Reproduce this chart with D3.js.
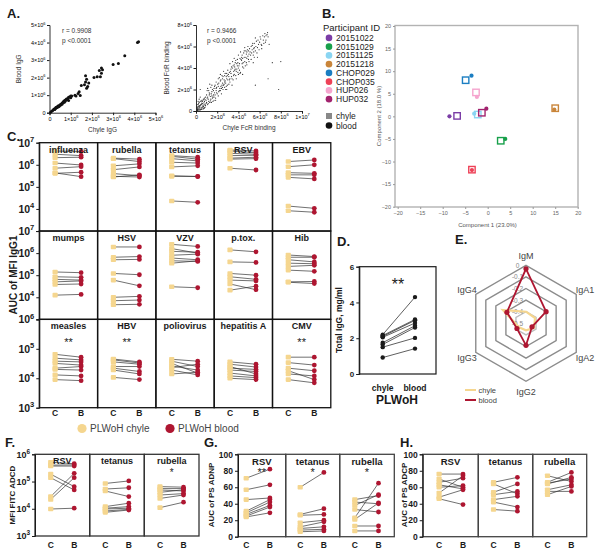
<!DOCTYPE html>
<html>
<head>
<meta charset="utf-8">
<script src="https://cdn.jsdelivr.net/npm/d3@7"></script>
<style>
  body { margin: 0; background: #fff; }
  svg { font-family: Arial, "Liberation Sans", sans-serif; }
</style>
</head>
<body>
<div id="chart"></div>
<script>
// ---------- data ----------

// A: chyle vs blood IgG (x10^6)
const igPairs = [
  [0.05,0.03],[0.1,0.08],[0.15,0.12],[0.2,0.2],[0.25,0.22],[0.3,0.3],[0.35,0.33],[0.4,0.38],
  [0.45,0.4],[0.5,0.45],[0.55,0.5],[0.6,0.55],[0.65,0.62],[0.7,0.68],[0.75,0.72],[0.8,0.78],
  [0.85,0.8],[0.9,0.88],[0.95,0.9],[1.0,0.95],[0.3,0.25],[0.4,0.32],[0.5,0.42],[0.6,0.5],
  [0.7,0.6],[0.35,0.3],[0.45,0.36],[0.55,0.46],[0.25,0.18],[0.65,0.58],[0.75,0.66],[0.85,0.75],
  [0.9,0.7],[1.0,0.85],[1.05,0.95],[1.2,1.0],[1.25,0.95],[1.35,1.1],[1.4,1.2],[1.45,0.98],
  [1.5,1.55],[1.7,2.1],[1.75,1.9],[1.7,1.75],[1.65,1.6],[1.8,1.5],[1.75,1.4],[1.85,1.7],
  [2.1,2.0],[2.25,2.05],[2.35,2.4],[2.45,2.55],[2.5,2.45],[2.45,2.25],[2.4,2.05],[3.0,2.75],
  [3.25,2.8],[3.55,3.25],[4.15,4.0],[4.2,4.05]
];
// A: chyle vs blood FcR binding (x10^6)
const fcrPairs = [
  [0.1,0.1],[0.2,0.3],[0.3,0.1],[0.4,0.5],[0.5,0.2],[0.6,0.7],[0.7,0.4],[0.2,0.6],[0.8,0.9],[0.9,0.5],
  [0.3,0.8],[0.5,1.0],[0.1,0.4],[0.6,0.3],[0.4,0.9],[0.7,1.1],[1.0,0.8],[0.8,0.3],[0.2,0.2],[0.5,0.6],
  [0.15,0.05],[0.35,0.35],[0.45,0.15],[0.65,0.55],[0.25,0.45],[0.05,0.2],[0.75,0.75],[0.95,1.0],[0.55,0.85],[0.85,0.6],
  [0.05,0.05],[0.1,0.2],[0.15,0.3],[0.25,0.1],[0.3,0.4],[0.35,0.2],[0.4,0.1],[0.45,0.6],[0.5,0.35],[0.55,0.15],
  [0.6,0.9],[0.65,0.4],[0.7,0.2],[0.75,0.55],[0.8,1.2],[0.85,0.35],[0.9,1.3],[0.95,0.7],[0.1,0.6],[0.2,0.9],
  [0.3,1.1],[0.4,1.3],[0.15,0.15],[0.35,0.5],[0.55,0.7],[0.65,1.0],[0.75,0.25],[0.85,1.05],[0.05,0.35],[0.25,0.7],
  [1.1,1.3],[1.2,0.9],[1.3,1.6],[1.4,1.1],[1.5,1.8],[1.6,1.3],[1.7,2.1],[1.8,1.5],[1.9,1.9],[1.2,1.9],
  [1.4,2.2],[1.6,0.9],[1.8,2.4],[1.1,0.6],[1.3,2.5],[1.5,1.4],[1.7,1.0],[1.9,2.7],[2.0,1.6],[1.0,1.5],
  [1.15,1.1],[1.35,1.35],[1.55,1.2],[1.75,1.7],[1.95,2.2],[1.25,1.5],[1.45,0.8],[1.65,1.9],[1.85,1.2],[1.05,1.9],
  [1.05,1.2],[1.15,0.7],[1.25,1.7],[1.35,0.95],[1.45,1.6],[1.55,2.0],[1.65,1.5],[1.75,2.3],[1.85,1.0],[1.95,1.7],
  [1.1,2.1],[1.3,0.8],[1.5,2.4],[1.7,1.3],[1.9,2.1],
  [2.1,2.3],[2.2,1.9],[2.3,2.8],[2.4,2.1],[2.5,3.0],[2.6,2.4],[2.7,3.3],[2.8,2.6],[2.9,3.5],[2.2,3.1],
  [2.4,1.6],[2.6,3.7],[2.8,2.0],[3.0,2.9],[2.1,1.4],[2.5,2.6],[2.9,3.0],[2.3,3.4],[2.7,2.2],[3.0,3.8],
  [2.15,2.6],[2.35,2.3],[2.55,2.0],[2.75,2.8],[2.95,2.4],[2.45,3.3],[2.65,2.9],[2.85,3.2],
  [2.05,2.5],[2.15,1.8],[2.25,2.1],[2.35,2.9],[2.45,2.4],[2.55,3.2],[2.65,2.5],[2.75,3.5],[2.85,2.3],[2.95,3.3],
  [2.1,3.0],[2.3,1.9],[2.5,2.2],[2.7,2.7],[2.9,2.0],
  [3.1,3.2],[3.2,2.7],[3.3,3.9],[3.4,3.0],[3.5,4.2],[3.6,3.4],[3.7,4.5],[3.8,3.7],[3.9,4.8],[3.2,4.4],
  [3.4,2.4],[3.6,4.9],[3.8,3.0],[4.0,4.0],[3.3,3.5],[3.5,2.9],[3.7,3.9],[3.9,4.2],[3.1,2.5],[4.0,5.2],
  [3.15,3.6],[3.35,4.1],[3.55,3.7],[3.75,3.3],[3.95,3.6],[3.45,4.6],[3.65,4.1],[3.85,4.4],
  [3.05,3.4],[3.15,2.9],[3.25,3.7],[3.35,3.2],[3.45,4.0],[3.55,3.3],[3.65,3.8],[3.75,4.7],[3.85,3.9],[3.95,4.5],
  [3.2,3.0],[3.6,4.3],
  [4.1,4.4],[4.2,3.6],[4.3,5.0],[4.4,4.1],[4.5,5.4],[4.6,4.6],[4.7,5.6],[4.8,4.3],[4.9,5.1],[4.2,5.5],
  [4.4,3.4],[4.6,5.9],[4.8,4.9],[5.0,5.3],[4.3,4.7],[4.5,4.0],[4.7,5.0],[4.9,6.0],[4.1,3.8],[5.0,4.6],
  [4.15,4.9],[4.35,4.4],[4.55,5.0],[4.75,4.5],[4.95,5.6],
  [4.05,4.2],[4.15,3.5],[4.25,4.8],[4.35,5.2],[4.45,4.5],[4.55,5.6],[4.65,4.2],[4.75,5.3],[4.85,5.7],[4.95,4.8],
  [4.0,3.4],[4.4,4.9],[4.8,5.5],
  [5.1,5.5],[5.2,4.8],[5.3,6.1],[5.4,5.2],[5.5,6.3],[5.6,5.6],[5.7,6.5],[5.8,5.0],[5.9,6.2],[5.2,6.0],
  [5.4,4.5],[5.6,6.8],[5.8,5.9],[6.0,6.4],[5.3,5.7],[5.5,5.0],[5.15,5.2],[5.45,5.8],[5.75,5.4],
  [5.05,5.8],[5.25,5.4],[5.35,6.3],[5.45,5.5],[5.65,6.0],[5.85,6.6],[5.95,5.7],[5.5,5.9],
  [6.1,6.7],[6.2,5.8],[6.3,7.0],[6.4,6.3],[6.5,7.2],[6.6,6.6],[6.8,6.9],[6.2,6.1],[6.7,7.1],[6.9,6.2],
  [6.05,6.9],[6.15,6.2],[6.35,6.6],[6.45,6.9],[6.55,6.4],[6.75,7.3],[6.6,7.0],
  [7.2,4.5],[7.8,2.0],[5.6,2.4],[6.8,3.0],[0.4,2.0],[8.0,4.6]
];
const igStats = ["r = 0.9908", "p <0.0001"];
const fcrStats = ["r = 0.9466", "p <0.0001"];

// B: PCA
const participants = ["20151022","20151029","20151125","20151218","CHOP029","CHOP035","HUP026","HUP032"];
const partColors = ["#7B3DA6","#18A04B","#8AD5F2","#C9853A","#1B7EC2","#EE4157","#F5A5CE","#A2236E"];
const pcChyle = [[-6.8,0.1],[2.9,-5.4],[-2.2,0.4],[15.0,1.8],[-4.9,8.0],[-3.5,-11.8],[-2.6,5.3],[-1.3,0.8]];
const pcBlood = [[-8.5,0.0],[3.9,-5.0],[-3.0,0.6],[14.8,1.5],[-3.6,9.0],[-3.5,-11.9],[-2.4,4.3],[-0.3,1.7]];

// C: AUC of MFI IgG1 per antigen
const cNames = ["influenza","rubella","tetanus","RSV","EBV",
                "mumps","HSV","VZV","p.tox.","Hib",
                "measles","HBV","poliovirus","hepatitis A","CMV"];
const cStars = ["","","","","", "","","","","", "**","**","","","**"];
const cChyle = [
  [4.2e6,3.0e6,2.1e6,1.2e6,7e5,4.1e5,4.3e5],
  [2.0e6,1.9e6,9e5,6e5,4e5,3e5,2.8e5],
  [2.6e6,2.4e6,1.9e6,1.3e6,8e5,3.2e5,3.0e5,2.3e4],
  [4.7e6,4.2e6,3.3e6,2.6e6,2.0e6,1.8e6,7e5],
  [1.4e6,8.2e5,4.4e5,3.5e5,2.7e5,1.35e4,8.3e3],
  [1.4e5,8.5e4,6.5e4,5e4,3.8e4,1.25e4],
  [1.9e6,6.5e5,5e5,1.2e5,6e4,1e4,7e3,4.6e3],
  [2.5e6,1.6e6,1.2e6,8e5,6e5,4.5e5,3.5e5,3e4],
  [1.4e6,4e5,1.2e5,8.5e4,6e4,4e4,2.1e4],
  [8.2e5,6.5e5,5e5,3.5e5,2.5e5,1.7e5,5e4,4.8e4],
  [6.5e4,4.8e4,3.8e4,3.2e4,2.2e4,2.0e4,1.3e4,9e3],
  [4.5e4,4.2e4,3.6e4,2.5e4,2.2e4,1.9e4,1.07e4],
  [4.4e4,3.8e4,3.2e4,2.6e4,2.3e4,1.9e4,1.4e4],
  [3.6e4,3.0e4,2.5e4,2.2e4,1.9e4,1.5e4,1.2e4,1.0e4],
  [5.2e4,3.4e4,2.2e4,1.8e4,1.4e4,9e3]
];
const cBlood = [
  [4.0e6,2.6e6,2.2e6,9.8e5,8.2e5,4.6e5,2.9e5],
  [1.8e6,1.4e6,1.1e6,8e5,3.2e5,2.8e5,3.5e5],
  [2.2e6,1.8e6,1.5e6,1.2e6,9e5,2.9e5,3.0e5,2.0e4],
  [4.2e6,3.5e6,3.0e6,2.7e6,2.2e6,1.9e6,5.8e5],
  [1.65e6,1.0e6,4.1e5,3.5e5,2.3e5,1.07e4,7.1e3],
  [1.3e5,8e4,6e4,5.5e4,4e4,1.35e4],
  [1.9e6,7e5,5.2e5,1.05e5,3.3e4,1.1e4,7.5e3,4.8e3],
  [2e6,1.0e6,1.1e6,9e5,5e5,4.2e5,4.5e5,2.7e4],
  [1.15e6,3.8e5,1.0e5,6.5e4,5.5e4,2.2e4,3.2e4],
  [7e5,6.5e5,4e5,3.3e5,2.8e5,1.5e5,5.2e4,4.2e4],
  [5.2e4,4.2e4,3.6e4,2.8e4,2.5e4,1.9e4,1.2e4,8.3e3],
  [3.6e4,3.3e4,3.0e4,2.5e4,1.7e4,1.4e4,9e3],
  [3.8e4,2.5e4,1.5e4,1.9e4,3.0e4,1.3e4,1.6e4],
  [3.0e4,2.4e4,1.4e4,2.0e4,1.7e4,1.2e4,1.05e4,9e3],
  [5.2e4,2.8e4,1.8e4,9e3,1.2e4,7e3]
];
const cRowDomains = [[1e3,1e7],[1e3,1e7],[1e3,1e6]];
const cRowTicks = [[1e4,1e5,1e6,1e7],[1e4,1e5,1e6,1e7],[1e3,1e4,1e5,1e6]];

// D: total IgG mg/ml
const dChyle = [0.92,1.5,1.65,1.75,2.05,2.1,2.15,2.2];
const dBlood = [1.42,2.02,2.6,2.7,2.85,3.0,3.05,4.3];
const dGroups = ["chyle","blood"];

// E: radar
const eAxes = ["IgM","IgA1","IgA2","IgG2","IgG3","IgG4"];
const eChyle = [-0.40,-0.41,-0.42,-0.44,-0.43,-0.27];
const eBlood = [-0.03,-0.30,-0.44,-0.31,-0.41,-0.31];
const eRings = [0,-0.1,-0.2,-0.3,-0.4];
const eRingLabels = ["0","-0.1","-0.2","-0.3","-0.4","-0.5"];

// F: MFI FITC ADCD
const fNames = ["RSV","tetanus","rubella"];
const fStars = ["","","*"];
const fChyle = [
  [5.1e5,4.0e5,3.7e5,1.87e5,1.38e5,2.8e4,2.2e4,9.8e3],
  [8.5e4,5.3e4,4.5e4,1.2e4,1.05e4,9.8e3,8.3e3,7.4e3],
  [6.5e4,5.5e4,4.9e4,4e4,3.2e4,2.4e4,1.1e4]
];
const fBlood = [
  [4.5e5,4.1e5,3.7e5,6.5e4,4.9e4,2.0e5,1.38e5,1.05e4],
  [1.05e5,5.9e4,2.8e4,1.6e4,1.2e4,1.05e4,9.5e3,9e3],
  [6.2e4,5.5e4,4.5e4,5e4,3.6e4,3.2e4,1.74e4]
];

// G: AUC of PS ADNP
const gNames = ["RSV","tetanus","rubella"];
const gStars = ["**","*","*"];
const gChyle = [
  [71,57,45,31,29,27,25,24],
  [60,27,26,17,12,10,8,6],
  [45,42,38,33,23,21,13,7]
];
const gBlood = [
  [82,63,47,45,42,38,36,29],
  [78,34,27,20,18,12,9,7],
  [50,40,51,30,65,41,13,7]
];

// H: AUC of PS ADCP
const hNames = ["RSV","tetanus","rubella"];
const hStars = ["","",""];
const hChyle = [
  [76,70,66,63,60,53,48,46],
  [66,64,54,51,45,42,33],
  [74,66,65,64,57,55,51]
];
const hBlood = [
  [76,60,71,58,62,74,57,39],
  [72,52,64,55,49,36,31],
  [67,78,70,72,63,55,61]
];

// ---------- drawing ----------
const CHYLE = "#F5D68F", BLOOD = "#AE1631", INK = "#1a1a1a";

const svg = d3.select("#chart").append("svg")
  .attr("width", 607).attr("height", 554);

function letter(t, x, y) {
  svg.append("text").attr("x", x).attr("y", y)
    .attr("font-size", 13).attr("font-weight", "bold").attr("fill", INK).text(t);
}
function sup(sel, base, exp, size) {
  sel.text(null);
  sel.append("tspan").text(base);
  sel.append("tspan").attr("dy", -size * 0.45).attr("font-size", size * 0.72).text(exp);
}
function sciLabel(sel, v, size) {
  if (v === 0) { sel.text("0"); return; }
  const e = Math.floor(Math.log10(v) + 1e-9);
  const m = Math.round(v / Math.pow(10, e));
  sup(sel, m + "\u00d710", e, size);
}

// ----- A -----
letter("A.", 7, 18);
function scatterA(pairs, xr, yr, xmax, ymax, xstep, ystep, dotR, dotFill, xLab, yLab, yLabX, stats, statX) {
  const x = d3.scaleLinear().domain([0, xmax]).range(xr);
  const y = d3.scaleLinear().domain([0, ymax]).range(yr);
  const fs = 5.5;
  const xa = svg.append("g").attr("transform", `translate(0,${yr[0]})`)
    .call(d3.axisBottom(x).tickValues(d3.range(0, xmax + 0.001, xstep)).tickSize(2.5).tickPadding(1.5));
  xa.selectAll(".tick text").attr("font-size", fs).each(function(d) { sciLabel(d3.select(this), d * 1e6, fs); });
  const ya = svg.append("g").attr("transform", `translate(${xr[0]},0)`)
    .call(d3.axisLeft(y).tickValues(d3.range(0, ymax + 0.001, ystep)).tickSize(2.5).tickPadding(1.5));
  ya.selectAll(".tick text").attr("font-size", fs).each(function(d) { sciLabel(d3.select(this), d * 1e6, fs); });
  [xa, ya].forEach(a => { a.select(".domain").attr("stroke", INK).attr("stroke-width", 0.9); a.selectAll("line").attr("stroke", INK); a.attr("font-family", null); });
  svg.append("g").selectAll("circle").data(pairs).join("circle")
    .attr("cx", d => x(d[0])).attr("cy", d => y(d[1])).attr("r", dotR).attr("fill", dotFill);
  svg.append("text").attr("x", (xr[0] + xr[1]) / 2).attr("y", yr[0] + 19)
    .attr("text-anchor", "middle").attr("font-size", 6.5).attr("fill", "#333").text(xLab);
  svg.append("text").attr("transform", `translate(${yLabX},${(yr[0] + yr[1]) / 2}) rotate(-90)`)
    .attr("text-anchor", "middle").attr("font-size", 6.5).attr("fill", "#333").text(yLab);
  stats.forEach((s, i) => svg.append("text").attr("x", statX).attr("y", yr[1] + 8 + i * 9.5)
    .attr("font-size", 6.5).attr("fill", "#333").text(s));
}
scatterA(igPairs, [49.5, 155.5], [112.7, 25], 5, 5, 1, 1, 1.5, "#111",
  "Chyle IgG", "Blood IgG", 21, igStats, 62);
scatterA(fcrPairs, [196, 302], [111, 25], 10, 8, 2, 2, 0.6, "#2a2a2a",
  "Chyle FcR binding", "Blood FcR binding", 169, fcrStats, 207);

// ----- B -----
letter("B.", 322, 18);
svg.append("text").attr("x", 323).attr("y", 31).attr("font-size", 9.5).attr("fill", "#222").text("Participant ID");
const legY = d3.scaleBand().domain(participants).range([33.5, 103.5]);
const lg = svg.append("g").selectAll("g").data(participants).join("g")
  .attr("transform", d => `translate(329,${legY(d) + legY.bandwidth() / 2})`);
lg.append("circle").attr("r", 3.3).attr("fill", (d, i) => partColors[i]);
lg.append("text").attr("x", 7).attr("y", 3).attr("font-size", 8.5).attr("fill", "#222").text(d => d);
svg.append("rect").attr("x", 326).attr("y", 113).attr("width", 6).attr("height", 6).attr("fill", "#888");
svg.append("text").attr("x", 336).attr("y", 119).attr("font-size", 8.5).attr("fill", "#222").text("chyle");
svg.append("circle").attr("cx", 329).attr("cy", 125.5).attr("r", 3.3).attr("fill", "#111");
svg.append("text").attr("x", 336).attr("y", 128.5).attr("font-size", 8.5).attr("fill", "#222").text("blood");

const pcX = d3.scaleLinear().domain([-20, 20]).range([397.7, 577.7]);
const pcY = d3.scaleLinear().domain([-20, 20]).range([206.7, 26]);
svg.append("rect").attr("x", 395).attr("y", 25.5).attr("width", 183).attr("height", 181.5)
  .attr("fill", "none").attr("stroke", "#b3b3b3").attr("stroke-width", 1.4);
const bxa = svg.append("g").attr("transform", "translate(0,207)")
  .call(d3.axisBottom(pcX).tickValues(d3.range(-20, 21, 5)).tickSize(2).tickPadding(2));
const bya = svg.append("g").attr("transform", "translate(395,0)")
  .call(d3.axisLeft(pcY).tickValues(d3.range(-20, 21, 5)).tickSize(2).tickPadding(2));
[bxa, bya].forEach(a => {
  a.select(".domain").remove();
  a.selectAll("line").attr("stroke", "#999");
  a.selectAll("text").attr("font-size", 5.5).attr("fill", "#666");
  a.attr("font-family", null);
});
svg.append("text").attr("x", 487.5).attr("y", 227).attr("text-anchor", "middle")
  .attr("font-size", 6).attr("fill", "#555").text("Component 1 (23.0%)");
svg.append("text").attr("transform", "translate(381,116) rotate(-90)").attr("text-anchor", "middle")
  .attr("font-size", 6).attr("fill", "#555").text("Component 2 (18.0 %)");
svg.append("g").selectAll("rect").data(pcChyle).join("rect")
  .attr("x", d => pcX(d[0]) - 3.2).attr("y", d => pcY(d[1]) - 3.2)
  .attr("width", 6.4).attr("height", 6.4).attr("fill", "none")
  .attr("stroke", (d, i) => partColors[i]).attr("stroke-width", 1.4);
svg.append("g").selectAll("circle").data(pcBlood).join("circle")
  .attr("cx", d => pcX(d[0])).attr("cy", d => pcY(d[1])).attr("r", 2.1)
  .attr("fill", (d, i) => partColors[i]);

// ----- paired-cell helper -----
function pairedCells(o) {
  const g = svg.append("g");
  o.names.forEach((name, i) => {
    const l = o.edges[i], r = o.edges[i + 1];
    const y = o.y, top = o.top, bottom = o.bottom;
    const xc = r - o.cOff, xb = r - o.bOff;
    const ch = o.chyle[i], bl = o.blood[i];
    g.append("g").selectAll("line").data(ch).join("line")
      .attr("x1", xc).attr("y1", d => y(d)).attr("x2", xb).attr("y2", (d, j) => y(bl[j]))
      .attr("stroke", "#333").attr("stroke-width", 0.7);
    g.append("g").selectAll("rect").data(ch).join("rect")
      .attr("x", xc - 2.6).attr("y", d => y(d) - 2.3).attr("width", 5.2).attr("height", 4.6)
      .attr("rx", 0.8).attr("fill", CHYLE);
    g.append("g").selectAll("circle").data(bl).join("circle")
      .attr("cx", xb).attr("cy", d => y(d)).attr("r", 2.4).attr("fill", BLOOD);
    g.append("rect").attr("x", l).attr("y", top).attr("width", r - l).attr("height", bottom - top)
      .attr("fill", "none").attr("stroke", o.border).attr("stroke-width", o.borderW);
    g.append("text").attr("x", (l + r) / 2).attr("y", top + o.titleDy).attr("text-anchor", "middle")
      .attr("font-size", o.titleSize).attr("font-weight", "bold").attr("fill", INK).text(name);
    if (o.stars[i]) g.append("text").attr("x", (l + r) / 2).attr("y", top + o.starDy)
      .attr("text-anchor", "middle").attr("font-size", o.starSize).attr("fill", INK).text(o.stars[i]);
    if (o.xLabels) {
      [["C", xc], ["B", xb]].forEach(([t, xx]) => g.append("text").attr("x", xx).attr("y", o.xLabY)
        .attr("text-anchor", "middle").attr("font-size", 8.5).attr("font-weight", "bold").attr("fill", INK).text(t));
    }
  });
}
function leftAxis(scale, x, ticks, fmt, size) {
  const a = svg.append("g").attr("transform", `translate(${x},0)`)
    .call(d3.axisLeft(scale).tickValues(ticks).tickSize(3).tickPadding(2));
  a.attr("font-family", null);
  a.select(".domain").attr("stroke", INK);
  a.selectAll("line").attr("stroke", INK);
  a.selectAll(".tick text").attr("font-size", size).attr("font-weight", "bold").attr("fill", INK)
    .each(function(d) { fmt(d3.select(this), d); });
  return a;
}
const logFmt = size => (sel, d) => sup(sel, "10", Math.round(Math.log10(d)), size);

// ----- C -----
letter("C.", 7, 141);
const cCol = d3.scaleBand().domain(d3.range(5)).range([39.3, 330.8]);
const cRow = d3.scaleBand().domain(d3.range(3)).range([142.7, 407.7]);
d3.range(3).forEach(ri => {
  const top = cRow(ri), bottom = top + cRow.bandwidth();
  const y = d3.scaleLog().domain(cRowDomains[ri]).range([bottom, top]);
  const idx = d3.range(ri * 5, ri * 5 + 5);
  const edges = d3.range(5).map(c => cCol(c)).concat([cCol(4) + cCol.bandwidth()]);
  pairedCells({
    names: idx.map(i => cNames[i]), chyle: idx.map(i => cChyle[i]), blood: idx.map(i => cBlood[i]),
    stars: idx.map(i => cStars[i]), edges, y, top, bottom, cOff: 42.5, bOff: 16.5,
    border: "#111", borderW: 1.3, titleDy: 10, titleSize: 9, starDy: 27, starSize: 11,
    xLabels: ri === 2, xLabY: 416
  });
  leftAxis(y, 39.3, cRowTicks[ri], logFmt(10.5), 10.5);
});
svg.append("text").attr("transform", "translate(17,275) rotate(-90)").attr("text-anchor", "middle")
  .attr("font-size", 10).attr("font-weight", "bold").attr("fill", INK).text("AUC of MFI IgG1");
[[CHYLE, "PLWoH chyle", 82], [BLOOD, "PLWoH blood", 170]].forEach(([c, t, x]) => {
  svg.append("circle").attr("cx", x).attr("cy", 428.5).attr("r", 4.6).attr("fill", c);
  svg.append("text").attr("x", x + 8).attr("y", 432).attr("font-size", 10).attr("fill", "#444").text(t);
});

// ----- D -----
letter("D.", 337, 246);
const dY = d3.scaleLinear().domain([0, 6]).range([374, 266.7]);
const dX = d3.scalePoint().domain(dGroups).range([382.7, 415]);
svg.append("rect").attr("x", 359.3).attr("y", 266.7).attr("width", 76.7).attr("height", 107.3)
  .attr("fill", "none").attr("stroke", INK).attr("stroke-width", 1.2);
leftAxis(dY, 359.3, [0, 2, 4, 6], (s, d) => s.text(d), 8);
svg.append("g").selectAll("line").data(dChyle).join("line")
  .attr("x1", dX("chyle")).attr("y1", d => dY(d)).attr("x2", dX("blood")).attr("y2", (d, i) => dY(dBlood[i]))
  .attr("stroke", INK).attr("stroke-width", 0.7);
svg.append("g").selectAll("circle").data(dChyle.map(v => ["chyle", v]).concat(dBlood.map(v => ["blood", v]))).join("circle")
  .attr("cx", d => dX(d[0])).attr("cy", d => dY(d[1])).attr("r", 2.2).attr("fill", INK);
svg.append("text").attr("x", 398).attr("y", 290).attr("text-anchor", "middle").attr("font-size", 16).attr("fill", INK).text("**");
dGroups.forEach(gp => svg.append("text").attr("x", dX(gp)).attr("y", 390.5).attr("text-anchor", "middle")
  .attr("font-size", 8.5).attr("font-weight", "bold").attr("fill", INK).text(gp));
svg.append("text").attr("x", 397).attr("y", 404).attr("text-anchor", "middle")
  .attr("font-size", 12).attr("font-weight", "bold").attr("fill", INK).text("PLWoH");
svg.append("text").attr("transform", "translate(342,320) rotate(-90)").attr("text-anchor", "middle")
  .attr("font-size", 8.5).attr("font-weight", "bold").attr("fill", INK).text("Total IgG, mg/ml");

// ----- E -----
letter("E.", 455, 244);
const ecx = 526, ecy = 323.3;
const eR = d3.scaleLinear().domain([-0.5, 0]).range([0, 58]);
const eAng = d3.scalePoint().domain(d3.range(7)).range([0, 2 * Math.PI]);
const radial = d3.lineRadial().angle((d, i) => eAng(i)).radius(d => eR(d)).curve(d3.curveLinearClosed);
const eg = svg.append("g").attr("transform", `translate(${ecx},${ecy})`);
eRings.forEach((v, i) => eg.append("path").attr("d", radial(eAxes.map(() => v)))
  .attr("fill", "none").attr("stroke", i === eRings.length - 1 ? "#bdbdbd" : "#8c8c8c").attr("stroke-width", 1.4));
eRingLabels.forEach((t, i) => eg.append("text").attr("x", -8.5).attr("y", -eR(-i / 10) + 2.5)
  .attr("text-anchor", "middle").attr("font-size", 6.5).attr("fill", "#888").text(t));
eg.append("path").attr("d", radial(eChyle)).attr("fill", "none").attr("stroke", CHYLE).attr("stroke-width", 2.2);
eg.append("path").attr("d", radial(eBlood)).attr("fill", "none").attr("stroke", BLOOD).attr("stroke-width", 1.8);
eg.selectAll("circle").data(eBlood).join("circle")
  .attr("cx", (d, i) => eR(d) * Math.sin(eAng(i))).attr("cy", (d, i) => -eR(d) * Math.cos(eAng(i)))
  .attr("r", 2.6).attr("fill", BLOOD);
eAxes.forEach((a, i) => {
  const ang = eAng(i), rr = 68;
  eg.append("text").attr("x", rr * Math.sin(ang)).attr("y", -rr * Math.cos(ang) + 3.5)
    .attr("text-anchor", "middle").attr("font-size", 9).attr("fill", "#444").text(a);
});
[[CHYLE, "chyle", 390], [BLOOD, "blood", 400]].forEach(([c, t, y]) => {
  svg.append("line").attr("x1", 465).attr("x2", 476).attr("y1", y).attr("y2", y).attr("stroke", c).attr("stroke-width", 2);
  svg.append("text").attr("x", 478.5).attr("y", y + 2.8).attr("font-size", 7.5).attr("fill", "#444").text(t);
});

// ----- F -----
letter("F.", 5, 447);
const fY = d3.scaleLog().domain([1e3, 1e6]).range([536, 454.3]);
pairedCells({ names: fNames, chyle: fChyle, blood: fBlood, stars: fStars, edges: [35, 89.7, 144.3, 199],
  y: fY, top: 454.3, bottom: 536, cOff: 39, bOff: 15.5, border: "#333", borderW: 1.3,
  titleDy: 9.5, titleSize: 9, starDy: 21.5, starSize: 10, xLabels: true, xLabY: 548 });
leftAxis(fY, 35, [1e3, 1e4, 1e5, 1e6], logFmt(9), 9);
svg.append("text").attr("transform", "translate(15,495) rotate(-90)").attr("text-anchor", "middle")
  .attr("font-size", 8).attr("font-weight", "bold").attr("fill", INK).text("MFI FITC ADCD");

// ----- G -----
letter("G.", 204, 447);
const gY = d3.scaleLinear().domain([0, 100]).range([536.7, 454.3]);
pairedCells({ names: gNames, chyle: gChyle, blood: gBlood, stars: gStars, edges: [238, 285.7, 339.7, 394.3],
  y: gY, top: 454.3, bottom: 536.7, cOff: 39.5, bOff: 15.8, border: "#444", borderW: 1.3,
  titleDy: 10.5, titleSize: 9.5, starDy: 22, starSize: 11, xLabels: true, xLabY: 548 });
leftAxis(gY, 238, d3.range(0, 101, 20), (s, d) => s.text(d), 8.5);
svg.append("text").attr("transform", "translate(214,495) rotate(-90)").attr("text-anchor", "middle")
  .attr("font-size", 8).attr("font-weight", "bold").attr("fill", INK).text("AUC of PS ADNP");

// ----- H -----
letter("H.", 400, 447);
const hY = d3.scaleLinear().domain([0, 100]).range([536.7, 454.3]);
pairedCells({ names: hNames, chyle: hChyle, blood: hBlood, stars: hStars, edges: [422.7, 478.3, 532.7, 586.7],
  y: hY, top: 454.3, bottom: 536.7, cOff: 39.2, bOff: 15.3, border: "#444", borderW: 1.3,
  titleDy: 10.5, titleSize: 9.5, starDy: 22, starSize: 11, xLabels: true, xLabY: 548 });
leftAxis(hY, 422.7, d3.range(0, 101, 20), (s, d) => s.text(d), 8.5);
svg.append("text").attr("transform", "translate(407,495) rotate(-90)").attr("text-anchor", "middle")
  .attr("font-size", 8).attr("font-weight", "bold").attr("fill", INK).text("AUC of PS ADCP");
</script>
</body>
</html>
